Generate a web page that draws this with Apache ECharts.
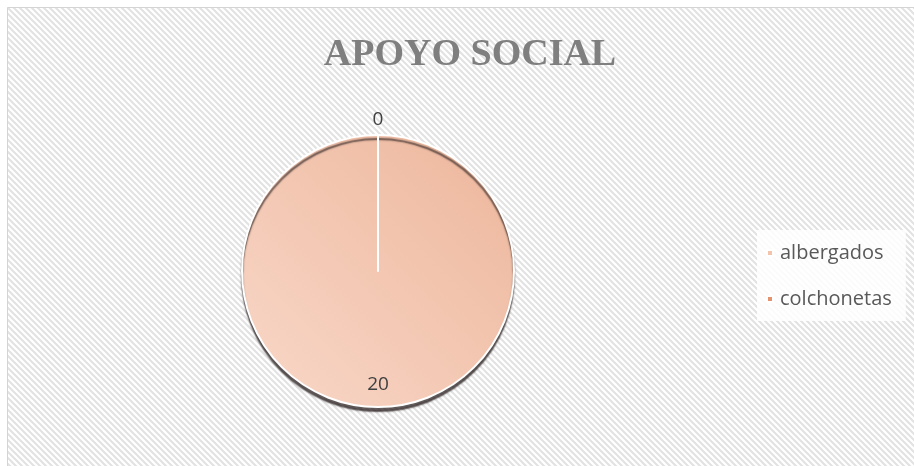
<!DOCTYPE html>
<html>
<head>
<meta charset="utf-8">
<script src="https://cdn.jsdelivr.net/npm/echarts@6/dist/echarts.min.js"></script>
<style>
  html, body { margin: 0; padding: 0; background: #fff; }
  #chart { width: 914px; height: 466px; }
</style>
</head>
<body>
<div id="chart"></div>
<script>
var chartTitle = 'APOYO SOCIAL';
var categories = ['albergados', 'colchonetas'];
var values = [20, 0];
var sliceColors = ['#f3c4ac', '#e3946e'];

// diagonal hatch used behind the chart
var makeHatch = function () {
    var s = 6;
    var c = document.createElement('canvas');
    c.width = s;
    c.height = s;
    var ctx = c.getContext('2d');
    ctx.fillStyle = '#ffffff';
    ctx.fillRect(0, 0, s, s);
    ctx.strokeStyle = '#e2e2e2';
    ctx.lineWidth = 2;
    ctx.beginPath();
    ctx.moveTo(-s, -s); ctx.lineTo(2 * s, 2 * s);
    ctx.moveTo(-s, 0); ctx.lineTo(s, 2 * s);
    ctx.moveTo(0, -s); ctx.lineTo(2 * s, s);
    ctx.stroke();
    return c;
};

var chart = echarts.init(document.getElementById('chart'));

var pieData = categories.map(function (name, i) {
    var item = {
        name: name,
        value: values[i],
        label: {position: 'inside'},
        itemStyle: {
            color: i === 0 ? {
                type: 'linear', x: 0, y: 1, x2: 1, y2: 0,
                colorStops: [{offset: 0, color: '#f9d8c9'}, {offset: 1, color: '#edb69b'}]
            } : sliceColors[i],
            borderColor: '#ffffff',
            borderWidth: 2
        }
    };
    if (i === 0) {
        item.itemStyle.shadowColor = 'rgba(40,30,30,0.7)';
        item.itemStyle.shadowBlur = 1.5;
        item.itemStyle.shadowOffsetY = 4;
    }
    return item;
});

chart.setOption({
    animation: false,
    graphic: [{
        type: 'rect',
        z: -10,
        silent: true,
        shape: {x: 7.5, y: 7.5, width: 930, height: 480},
        style: {
            fill: {image: makeHatch(), repeat: 'repeat'},
            stroke: '#d4d4d4',
            lineWidth: 1
        }
    }],
    title: {
        text: chartTitle,
        left: 465,
        textAlign: 'center',
        top: 31,
        textStyle: {
            fontFamily: 'Liberation Serif',
            fontWeight: 'bold',
            fontSize: 38,
            color: '#7f7f7f'
        }
    },
    legend: {
        orient: 'vertical',
        left: 757,
        top: 230,
        padding: [13, 14, 12, 9],
        backgroundColor: 'rgba(255,255,255,0.85)',
        itemWidth: 6,
        itemHeight: 6,
        itemGap: 26,
        icon: 'rect',
        data: categories.map(function (name, i) {
            return {name: name, itemStyle: {color: sliceColors[i]}};
        }),
        textStyle: {
            fontFamily: 'Open Sans',
            fontSize: 20,
            color: '#595959',
            padding: [0, 0, 0, 2]
        }
    },
    series: [{
        type: 'pie',
        center: [378, 271],
        radius: [0, 136],
        startAngle: 90,
        clockwise: true,
        stillShowZeroSum: true,
        minShowLabelAngle: 0,
        label: {
            show: true,
            formatter: '{c}',
            fontFamily: 'Open Sans',
            fontSize: 19,
            color: '#404040'
        },
        labelLine: {show: false},
        labelLayout: function (params) {
            if (params.dataIndex === 0) {
                return {dy: 43};
            }
            return {dy: -80};
        },
        emphasis: {disabled: true},
        data: pieData
    }]
});
</script>
</body>
</html>
